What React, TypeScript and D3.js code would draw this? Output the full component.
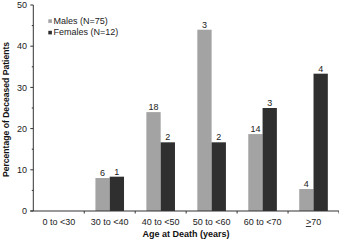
import React from "react";
import * as d3 from "d3";

const categories = ["0 to <30", "30 to <40", "40 to <50", "50 to <60", "60 to <70", ">70"];
const series = ["Males (N=75)", "Females (N=12)"];
const malesPct = [0, 8, 24, 44, 18.67, 5.33];
const femalesPct = [0, 8.33, 16.67, 16.67, 25, 33.33];
const maleCounts = ["", "6", "18", "3", "14", "4"];
const femaleCounts = ["", "1", "2", "2", "3", "4"];
const yTicks = [0, 10, 20, 30, 40, 50];
const yMinorTicks = [5, 15, 25, 35, 45];

const colors = ["#a3a3a3", "#2f2f2f"];
const FONT = "Arial, 'Liberation Sans', Helvetica, sans-serif";

export default function App() {
  const W = 339, H = 241;
  const x0 = 33.3, x1 = 339, yTop = 5, yBot = 211;
  const x = d3.scaleBand<string>().domain(categories).range([x0, x1]).padding(0);
  const bw = x.bandwidth();
  const xs = d3.scaleBand<string>().domain(series).range([bw / 2 - 14.3, bw / 2 + 14.3]).padding(0);
  const y = d3.scaleLinear().domain([0, 50]).range([yBot, yTop]);
  const data = [malesPct, femalesPct];
  const counts = [maleCounts, femaleCounts];
  const axisColor = "#333";

  return (
    <svg width={W} height={H} style={{ position: "absolute", left: 0, top: 0, background: "#fff" }} fontFamily={FONT}>
      {/* bars */}
      {series.map((s, si) =>
        categories.map((c, ci) => {
          const v = data[si][ci];
          if (!v) return null;
          const bx = (x(c) as number) + (xs(s) as number);
          return (
            <g key={s + c}>
              <rect x={bx} y={y(v)} width={xs.bandwidth()} height={yBot - y(v)} fill={colors[si]} />
              <text x={bx + xs.bandwidth() / 2} y={y(v) - 2} textAnchor="middle" fontSize={9} fill="#222">
                {counts[si][ci]}
              </text>
            </g>
          );
        })
      )}
      {/* y axis */}
      <line x1={x0} x2={x0} y1={yTop} y2={yBot} stroke={axisColor} strokeWidth={1} />
      {yTicks.map((t) => (
        <g key={"yt" + t}>
          <line x1={x0 - 3} x2={x0} y1={y(t)} y2={y(t)} stroke={axisColor} />
          <text x={27} y={y(t)} dy="0.35em" textAnchor="end" fontSize={9} fill="#222">{t}</text>
        </g>
      ))}
      {yMinorTicks.map((t) => (
        <line key={"ym" + t} x1={x0 - 1.5} x2={x0} y1={y(t)} y2={y(t)} stroke={axisColor} />
      ))}
      {/* x axis */}
      <line x1={x0 - 3} x2={x1} y1={yBot} y2={yBot} stroke={axisColor} strokeWidth={1.2} />
      {categories.map((c) => (
        <line key={"xt" + c} x1={(x(c) as number) + bw} x2={(x(c) as number) + bw} y1={yBot} y2={yBot + 2.5} stroke={axisColor} />
      ))}
      {categories.map((c) => (
        <text key={"xl" + c} x={(x(c) as number) + bw / 2} y={225} textAnchor="middle" fontSize={9} fill="#222">
          {c.startsWith(">") ? (
            <>
              <tspan textDecoration="underline">&gt;</tspan>
              <tspan>{c.slice(1)}</tspan>
            </>
          ) : (
            c
          )}
        </text>
      ))}
      {/* titles */}
      <text x={186} y={236.5} textAnchor="middle" fontSize={9} fontWeight="bold" fill="#111">Age at Death (years)</text>
      <text transform="translate(8.5,109.5) rotate(-90)" textAnchor="middle" fontSize={8.6} fontWeight="bold" fill="#111">
        Percentage of Deceased Patients
      </text>
      {/* legend */}
      {series.map((s, i) => (
        <g key={"lg" + s}>
          <rect x={48.3} y={19.3 + i * 11.5} width={3.6} height={3.6} fill={colors[i]} />
          <text x={53.5} y={23.8 + i * 11.5} fontSize={9} fill="#222">{s}</text>
        </g>
      ))}
    </svg>
  );
}
